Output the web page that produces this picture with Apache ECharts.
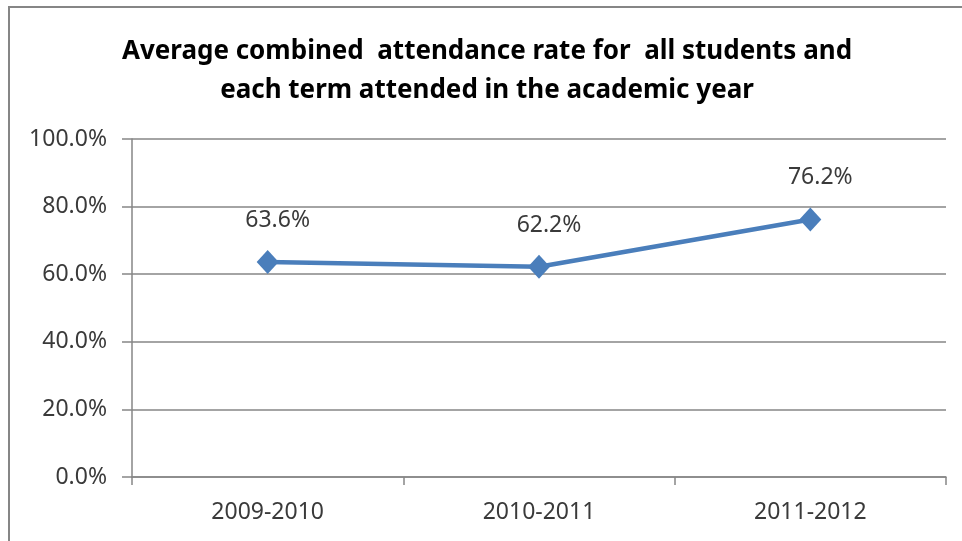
<!DOCTYPE html>
<html>
<head>
<meta charset="utf-8">
<script src="https://cdn.jsdelivr.net/npm/echarts@6/dist/echarts.min.js"></script>
<style>
html,body{margin:0;padding:0;background:#fff;}
#chart{width:962px;height:541px;}
</style>
</head>
<body>
<div id="chart"></div>
<script>
var titleText = 'Average combined  attendance rate for  all students and\neach term attended in the academic year';
var categories = ['2009-2010', '2010-2011', '2011-2012'];
var attendance = [63.6, 62.2, 76.2];
var yTicks = [0, 20, 40, 60, 80, 100];

var chart = echarts.init(document.getElementById('chart'));
var font = '"Noto Sans", sans-serif';
chart.setOption({
  animation: false,
  backgroundColor: '#ffffff',
  graphic: [{
    type: 'rect',
    shape: { x: 9, y: 7, width: 1000, height: 600 },
    style: { fill: 'none', stroke: '#868686', lineWidth: 2 },
    silent: true
  }],
  title: {
    text: titleText,
    left: 482,
    textAlign: 'center',
    top: 27,
    textStyle: {
      fontFamily: font,
      fontWeight: 'bold',
      fontSize: 26,
      lineHeight: 39,
      color: '#000000'
    }
  },
  grid: { left: 132, right: 16, top: 139, bottom: 64, containLabel: false },
  xAxis: {
    type: 'category',
    data: categories,
    boundaryGap: true,
    axisLine: { lineStyle: { color: '#868686', width: 1.5 } },
    axisTick: { show: true, length: 8, alignWithLabel: false, lineStyle: { color: '#868686', width: 1.5 } },
    axisLabel: { fontFamily: font, fontSize: 23, color: '#3a3a3a', margin: 24 },
    splitLine: { show: false }
  },
  yAxis: {
    type: 'value',
    min: yTicks[0],
    max: yTicks[yTicks.length - 1],
    interval: 20,
    axisLine: { show: true, lineStyle: { color: '#868686', width: 1.5 } },
    axisTick: { show: true, length: 10, inside: false, lineStyle: { color: '#868686', width: 1.5 } },
    axisLabel: {
      fontFamily: font, fontSize: 23, color: '#3a3a3a', margin: 25,
      formatter: function (v) { return v.toFixed(1) + '%'; }
    },
    splitLine: { show: true, lineStyle: { color: '#868686', width: 1.5 } }
  },
  series: [{
    type: 'line',
    data: attendance,
    symbol: 'diamond',
    symbolSize: [22, 24],
    itemStyle: { color: '#4a7ebb' },
    lineStyle: { color: '#4a7ebb', width: 4.5 },
    label: {
      show: true,
      position: 'top',
      distance: 18,
      offset: [10, 0],
      fontFamily: font,
      fontSize: 23,
      color: '#3a3a3a',
      formatter: function (p) { return p.value.toFixed(1) + '%'; }
    }
  }]
});
</script>
</body>
</html>
